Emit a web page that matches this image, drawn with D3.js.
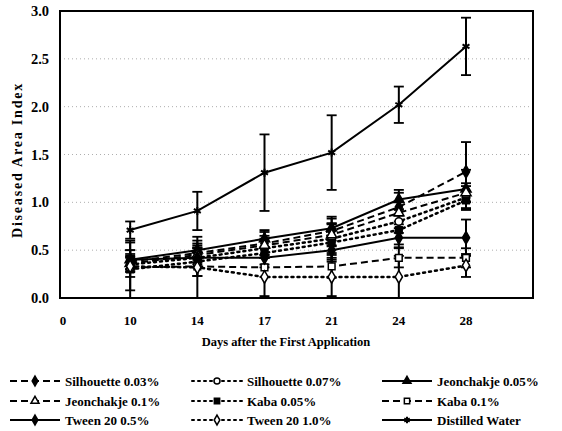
<!DOCTYPE html>
<html>
<head>
<meta charset="utf-8">
<script src="https://cdn.jsdelivr.net/npm/d3@7"></script>
<style>
  body { margin:0; background:#fff; }
  svg text { font-family:"Liberation Serif", "DejaVu Serif", serif; font-weight:bold; fill:#000; }
</style>
</head>
<body>
<svg id="chart"></svg>
<script>
const days = ["0","10","14","17","21","24","28"];
const yTicks = [0,0.5,1.0,1.5,2.0,2.5,3.0];

const series = ["Silhouette 0.03%","Silhouette 0.07%","Jeonchakje 0.05%",
  "Jeonchakje 0.1%","Kaba 0.05%","Kaba 0.1%",
  "Tween 20 0.5%","Tween 20 1.0%","Distilled Water"];

// values for days 10..28
const sil003 = [0.38,0.47,0.57,0.70,0.95,1.32];
const sil007 = [0.35,0.42,0.52,0.62,0.80,1.05];
const jeon005 = [0.40,0.50,0.62,0.73,1.03,1.14];
const jeon01 = [0.36,0.45,0.55,0.66,0.89,1.10];
const kaba005 = [0.30,0.38,0.47,0.58,0.71,1.02];
const kaba01 = [0.32,0.33,0.32,0.33,0.42,0.42];
const tween05 = [0.40,0.42,0.42,0.50,0.63,0.63];
const tween10 = [0.33,0.32,0.22,0.22,0.22,0.34];
const water = [0.71,0.91,1.31,1.52,2.02,2.63];

const sil003Err = [0.08,0.10,0.12,0.15,0.15,0.31];
const sil007Err = [0.08,0.10,0.10,0.15,0.12,0.12];
const jeon005Err = [0.10,0.10,0.09,0.10,0.10,0.20];
const jeon01Err = [0.08,0.10,0.10,0.12,0.12,0.10];
const kaba005Err = [0.30,0.15,0.12,0.20,0.15,0.10];
const kaba01Err = [0.10,0.10,0.10,0.12,0.10,0.10];
const tween05Err = [0.10,0.10,0.10,0.10,0.10,0.19];
const tween10Err = [0.25,0.32,0.20,0.20,0.22,0.12];
const waterErr = [0.09,0.20,0.40,0.39,0.19,0.30];

const values = [sil003,sil007,jeon005,jeon01,kaba005,kaba01,tween05,tween10,water];
const errors = [sil003Err,sil007Err,jeon005Err,jeon01Err,kaba005Err,kaba01Err,tween05Err,tween10Err,waterErr];

// line dash, marker, filled
const styles = [
  {dash:"7,4", sym:d3.symbolDiamond, fill:true},
  {dash:"2,4", sym:d3.symbolCircle, fill:false},
  {dash:null, sym:d3.symbolTriangle, fill:true},
  {dash:"7,4", sym:d3.symbolTriangle, fill:false},
  {dash:"2,4", sym:d3.symbolSquare, fill:true},
  {dash:"7,4", sym:d3.symbolSquare, fill:false},
  {dash:null, sym:d3.symbolDiamond, fill:true},
  {dash:"2,4", sym:d3.symbolDiamond, fill:false},
  {dash:null, sym:d3.symbolAsterisk, fill:true}
];

const W = 562, H = 431;
const plot = {left:60, top:11, right:533, bottom:298};

const svg = d3.select("#chart").attr("width",W).attr("height",H);

const x = d3.scalePoint().domain(days).range([63,466]);
const y = d3.scaleLinear().domain([0,3]).range([plot.bottom,plot.top]);

// gridlines
svg.append("g")
  .selectAll("line")
  .data(yTicks.filter(d=>d>0 && d<3))
  .join("line")
  .attr("x1",plot.left).attr("x2",plot.right)
  .attr("y1",d=>y(d)).attr("y2",d=>y(d))
  .attr("stroke","#999").attr("stroke-width",0.8)
  .attr("stroke-dasharray","1,3");

// frame
svg.append("rect")
  .attr("x",plot.left).attr("y",plot.top)
  .attr("width",plot.right-plot.left).attr("height",plot.bottom-plot.top)
  .attr("fill","none").attr("stroke","#000").attr("stroke-width",2);

// y axis labels
svg.append("g")
  .selectAll("text")
  .data(yTicks)
  .join("text")
  .attr("x",49).attr("y",d=>y(d)+5)
  .attr("text-anchor","end")
  .attr("font-size",14.5)
  .text(d=>d.toFixed(1));

// x axis labels
svg.append("g")
  .selectAll("text")
  .data(days)
  .join("text")
  .attr("x",d=>x(d)).attr("y",325)
  .attr("text-anchor","middle")
  .attr("font-size",13)
  .text(d=>d);

svg.append("text")
  .attr("x",286).attr("y",346)
  .attr("text-anchor","middle")
  .attr("font-size",12.5)
  .text("Days after the First Application");

svg.append("text")
  .attr("transform","translate(22,160) rotate(-90)")
  .attr("text-anchor","middle")
  .attr("font-size",14)
  .attr("letter-spacing",1.8)
  .text("Diseased Area Index");

const pts = days.slice(1);

function marker(sel, st, size){
  sel.attr("d",d3.symbol().type(st.sym).size(size))
    .attr("fill",st.fill ? "#000" : "#fff")
    .attr("stroke","#000")
    .attr("stroke-width",st.sym===d3.symbolAsterisk ? 2 : 1.5);
}

// error bars
values.forEach((vals,i)=>{
  const err = errors[i];
  const g = svg.append("g");
  pts.forEach((d,j)=>{
    const lo = Math.max(0,vals[j]-err[j]), hi = vals[j]+err[j];
    g.append("line")
      .attr("x1",x(d)).attr("x2",x(d))
      .attr("y1",y(lo)).attr("y2",y(hi))
      .attr("stroke","#000").attr("stroke-width",2);
    [lo,hi].forEach(v=>{
      if(v<=0) return;
      g.append("line")
        .attr("x1",x(d)-5).attr("x2",x(d)+5)
        .attr("y1",y(v)).attr("y2",y(v))
        .attr("stroke","#000").attr("stroke-width",1.8);
    });
  });
});

// lines and markers
const line = d3.line().x((d,j)=>x(pts[j])).y(d=>y(d));
values.forEach((vals,i)=>{
  const st = styles[i];
  svg.append("path")
    .attr("d",line(vals))
    .attr("fill","none")
    .attr("stroke","#000")
    .attr("stroke-width",st.dash==="2,4" ? 2.5 : 2)
    .attr("stroke-linecap",st.dash==="2,4" ? "round" : "butt")
    .attr("stroke-dasharray",st.dash);
  svg.append("g")
    .selectAll("path")
    .data(vals)
    .join("path")
    .attr("transform",(d,j)=>`translate(${x(pts[j])},${y(d)})`)
    .call(marker,st,45);
});

// legend
const colX = [10,192,382];
const rowY = [381,401,420];
series.forEach((name,i)=>{
  const st = styles[i];
  const lx = colX[i%3], ly = rowY[Math.floor(i/3)];
  const g = svg.append("g").attr("transform",`translate(${lx},${ly})`);
  g.append("line")
    .attr("x1",0).attr("x2",50).attr("y1",0).attr("y2",0)
    .attr("stroke","#000")
    .attr("stroke-width",st.dash==="2,4" ? 2 : 1.8)
    .attr("stroke-linecap",st.dash==="2,4" ? "round" : "butt")
    .attr("stroke-dasharray",st.dash);
  g.append("path")
    .attr("transform","translate(25,0)")
    .call(marker,st,28);
  g.append("text")
    .attr("x",55).attr("y",5)
    .attr("font-size",13)
    .text(name);
});
</script>
</body>
</html>
